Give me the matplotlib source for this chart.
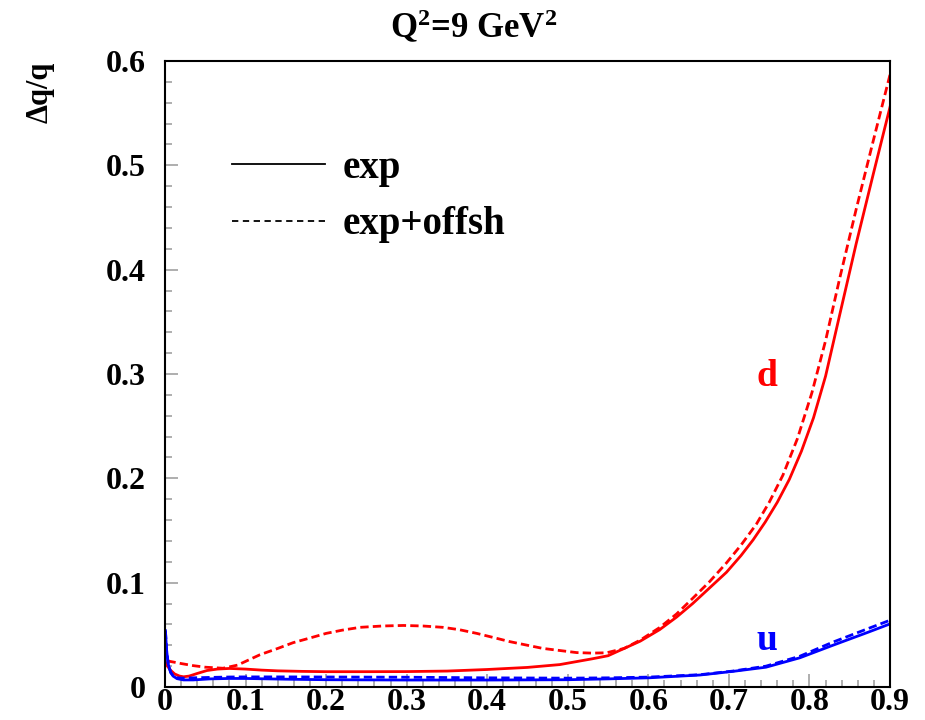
import matplotlib

matplotlib.use("Agg")
import matplotlib.pyplot as plt
from matplotlib.lines import Line2D
from matplotlib.ticker import MultipleLocator

plt.rcParams["font.family"] = ["Liberation Serif", "DejaVu Serif"]
plt.rcParams["font.weight"] = "bold"
plt.rcParams["mathtext.fontset"] = "custom"
plt.rcParams["mathtext.bf"] = "Liberation Serif:bold"
plt.rcParams["mathtext.rm"] = "Liberation Serif:bold"

# d quark, experimental smearing only
x_d_exp = [0.0005, 0.003, 0.007, 0.012, 0.018, 0.023, 0.030, 0.040, 0.052, 0.065,
           0.080, 0.100, 0.120, 0.140, 0.170, 0.200, 0.250, 0.300, 0.350, 0.400,
           0.450, 0.490, 0.530, 0.550, 0.570, 0.590, 0.614, 0.635, 0.655, 0.676,
           0.697, 0.715, 0.730, 0.745, 0.760, 0.775, 0.790, 0.805, 0.820, 0.837,
           0.858, 0.879, 0.900]
d_exp = [0.024, 0.020, 0.016, 0.0125, 0.0105, 0.0098, 0.0105, 0.013, 0.0158, 0.0172,
         0.0178, 0.0172, 0.0162, 0.0155, 0.0150, 0.0147, 0.0147, 0.0148, 0.0153, 0.0168,
         0.0188, 0.0215, 0.027, 0.030, 0.037, 0.044, 0.055, 0.067, 0.080, 0.095,
         0.110, 0.126, 0.141, 0.158, 0.177, 0.199, 0.226, 0.258, 0.298, 0.355,
         0.425, 0.491, 0.556]

# d quark, experimental + off-shell corrections
x_d_off = [0.003, 0.010, 0.020, 0.035, 0.050, 0.072, 0.090, 0.118, 0.140, 0.159,
           0.180, 0.200, 0.220, 0.242, 0.270, 0.296, 0.320, 0.345, 0.365, 0.387,
           0.410, 0.428, 0.450, 0.469, 0.490, 0.511, 0.530, 0.548, 0.570, 0.590,
           0.614, 0.635, 0.655, 0.676, 0.697, 0.715, 0.734, 0.750, 0.767, 0.785,
           0.803, 0.820, 0.837, 0.858, 0.879, 0.900]
d_off = [0.025, 0.024, 0.0225, 0.0205, 0.019, 0.018, 0.021, 0.031, 0.037, 0.0425,
         0.047, 0.0514, 0.0545, 0.0572, 0.0585, 0.059, 0.0585, 0.0572, 0.055, 0.0514,
         0.047, 0.0435, 0.040, 0.037, 0.035, 0.033, 0.0325, 0.0328, 0.037, 0.045,
         0.057, 0.070, 0.085, 0.101, 0.119, 0.136, 0.156, 0.177, 0.203, 0.238,
         0.282, 0.332, 0.390, 0.458, 0.523, 0.587]

# u quark, both variants on the same grid
x_u = [0.0005, 0.002, 0.004, 0.007, 0.010, 0.015, 0.023, 0.035, 0.056, 0.080,
       0.100, 0.150, 0.200, 0.300, 0.400, 0.500, 0.550, 0.600, 0.664, 0.705,
       0.746, 0.788, 0.829, 0.871, 0.900]
u_exp = [0.054, 0.035, 0.022, 0.014, 0.0105, 0.008, 0.0068, 0.0068, 0.0078, 0.0082,
         0.0082, 0.0075, 0.0070, 0.0067, 0.0067, 0.0070, 0.0078, 0.0088, 0.0115, 0.0150,
         0.019, 0.028, 0.040, 0.052, 0.0605]
u_off = [0.054, 0.035, 0.022, 0.014, 0.011, 0.0088, 0.0085, 0.0088, 0.0092, 0.0096,
         0.0097, 0.0097, 0.0096, 0.0094, 0.0088, 0.0085, 0.0088, 0.0095, 0.0118, 0.0153,
         0.0200, 0.0295, 0.043, 0.0555, 0.064]

RED = "#ff0000"
BLUE = "#0000ff"
DASH = (0, (3.0, 1.5))

fig = plt.figure(figsize=(9.25, 7.2), dpi=100)
ax = fig.add_axes([0.1784, 0.0458, 0.7838, 0.8695])

ax.plot(x_d_exp, d_exp, color=RED, lw=2.0)
ax.plot(x_d_off, d_off, color=RED, lw=2.0, linestyle=DASH)
ax.plot(x_u, u_exp, color=BLUE, lw=2.0)
ax.plot(x_u, u_off, color=BLUE, lw=2.0, linestyle=DASH)

ax.set_xlim(0, 0.9)
ax.set_ylim(0, 0.6)
ax.xaxis.set_major_locator(MultipleLocator(0.1))
ax.xaxis.set_minor_locator(MultipleLocator(0.02))
ax.yaxis.set_major_locator(MultipleLocator(0.1))
ax.yaxis.set_minor_locator(MultipleLocator(0.02))
ax.xaxis.set_major_formatter(lambda v, p: "0" if abs(v) < 1e-9 else f"{v:.1f}")
ax.yaxis.set_major_formatter(lambda v, p: "0" if abs(v) < 1e-9 else f"{v:.1f}")

ax.tick_params(which="both", direction="in", top=False, right=False,
               color="#999999", width=1.1, labelsize=23)
ax.tick_params(which="major", length=9.5)
ax.tick_params(which="minor", length=5)
ax.tick_params(axis="y", which="both", pad=14)
ax.tick_params(axis="x", which="both", pad=1)
for sp in ax.spines.values():
    sp.set_linewidth(1.5)
    sp.set_color("black")

fig.text(0.512, 0.962, r"$\mathbf{Q^{2}}$=9 GeV$\mathbf{^{2}}$", ha="center",
         va="center", fontsize=25, fontweight="bold")
ax.set_ylabel("Δq/q", fontsize=22, fontweight="bold")
ax.yaxis.set_label_coords(-0.152, 0.950)

ax.text(0.747, 0.298, "d", color=RED, fontsize=27, fontweight="bold",
        ha="center", va="center")
ax.text(0.747, 0.045, "u", color=BLUE, fontsize=27, fontweight="bold",
        ha="center", va="center")

handles = [Line2D([], [], color="black", lw=1.3),
           Line2D([], [], color="black", lw=1.3, linestyle=(0, (3.5, 2.5)))]
ax.legend(handles, ["exp", "exp+offsh"], loc="upper left",
          bbox_to_anchor=(0.092, 0.858), frameon=False, fontsize=28,
          handlelength=2.4, handletextpad=0.45, labelspacing=0.5,
          borderaxespad=0, borderpad=0)

fig.savefig("out.png", dpi=100)
